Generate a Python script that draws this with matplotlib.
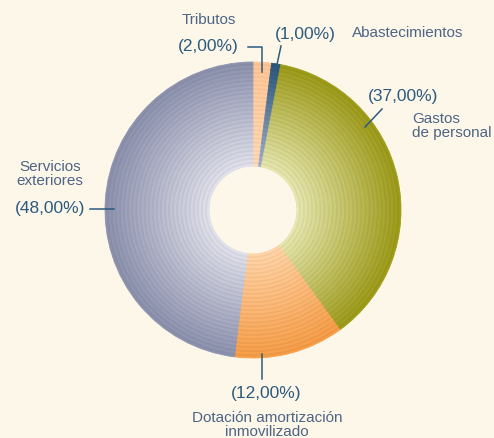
import numpy as np
import matplotlib
matplotlib.use("Agg")
import matplotlib.pyplot as plt
from matplotlib.colors import to_rgb
from matplotlib.lines import Line2D

# ---- data ----
categories = ["Tributos", "Abastecimientos", "Gastos\nde personal",
              "Dotación amortización\ninmovilizado", "Servicios\nexteriores"]
values = [2.0, 1.0, 37.0, 12.0, 48.0]
pct_labels = ["(2,00%)", "(1,00%)", "(37,00%)", "(12,00%)", "(48,00%)"]

# ---- style ----
BG = "#fdf7ea"
inner_cols = ["#ffd6b2", "#a2b0c8", "#e4e4ae", "#ffd2a6", "#dedee8"]
outer_cols = ["#ffc393", "#285478", "#9a9818", "#f29a45", "#898eaa"]
NAME_C = "#4d6483"
PCT_C = "#2c5a7d"

W, H = 494, 439
fig = plt.figure(figsize=(W / 100, H / 100), dpi=100, facecolor=BG)
ax = fig.add_axes([0, 0, 1, 1])
ax.set_facecolor(BG)

cx_px, cy_px, R_px = 253, 211, 148
hole = 0.294

n_rings = 52
radii = np.linspace(1.0, hole, n_rings)
for i, r in enumerate(radii):
    t = (1.0 - r) / (1.0 - hole)  # 0 outer, 1 inner
    mod = 1.0 + (0.025 if i % 2 == 0 else -0.025)
    cols = []
    for ci, co in zip(inner_cols, outer_cols):
        a = np.array(to_rgb(ci)); b = np.array(to_rgb(co))
        c = b + (a - b) * t
        c = np.clip(c * mod, 0, 1)
        cols.append(c)
    wedges, _ = ax.pie(values, colors=cols, startangle=90, counterclock=False,
                       radius=r, center=(0, 0), wedgeprops=dict(linewidth=0.6))
    for w, c in zip(wedges, cols):
        w.set_edgecolor(c)

ax.add_patch(plt.Circle((0, 0), hole, facecolor=BG, edgecolor="none", zorder=5))

ax.set_aspect("equal")
ax.set_xlim(-cx_px / R_px, (W - cx_px) / R_px)
ax.set_ylim(-(H - cy_px) / R_px, cy_px / R_px)
ax.axis("off")

def fx(px):
    return px / W

def fy(py):
    return 1 - py / H

FONT = "Liberation Sans"

def name(px, py, s, ha="center"):
    fig.text(fx(px), fy(py), s, ha=ha, va="center", color=NAME_C,
             fontsize=11, family=FONT, linespacing=1.05)

def pct(px, py, s):
    fig.text(fx(px), fy(py), s, ha="center", va="center", color=PCT_C,
             fontsize=12.5, family=FONT)

def leader(xs, ys):
    fig.add_artist(Line2D([fx(x) for x in xs], [fy(y) for y in ys],
                          color=PCT_C, linewidth=1.1))

# Tributos
name(209, 20, categories[0])
pct(208, 47, pct_labels[0])
leader([248, 262, 262], [48, 48, 73])
# Abastecimientos
name(408, 33, categories[1])
pct(305, 35, pct_labels[1])
leader([281, 276], [47, 70])
# Gastos de personal
pct(403, 96, pct_labels[2])
name(412, 126, categories[2], ha="left")
leader([382, 365], [110, 128])
# Dotación
pct(266, 394, pct_labels[3])
name(267, 425, categories[3])
leader([262, 262], [355, 380])
# Servicios exteriores
name(50, 174, categories[4])
pct(50, 209, pct_labels[4])
leader([90, 114], [210, 210])

fig.savefig("out.png", dpi=100, facecolor=BG)
